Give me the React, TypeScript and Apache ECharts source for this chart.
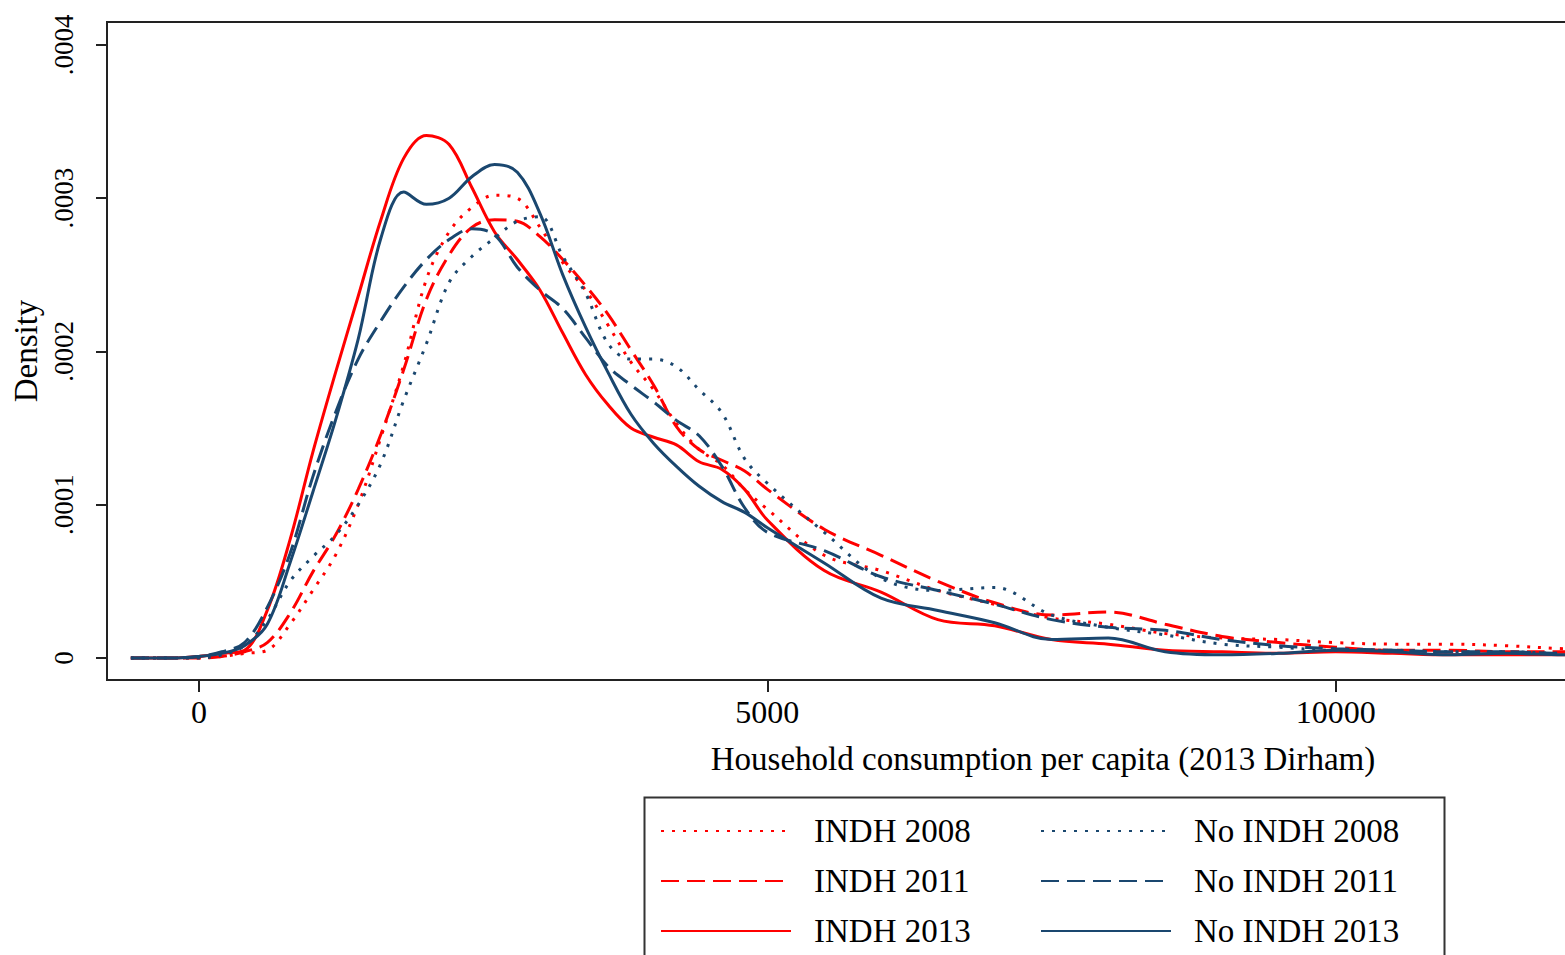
import React, { useEffect, useRef } from "react";
import * as echarts from "echarts";

// x grid (2013 Dirham)
const xs = [
  -600, -400, -200, 0, 200, 400, 600, 800, 1000, 1200, 1400, 1600, 1800, 2000, 2200, 2400, 2600, 2800, 3000,
  3200, 3400, 3600, 3800, 4000, 4200, 4400, 4600, 4800, 5000,
  5500, 6000, 6500, 7000, 7500, 8000, 8500, 9000, 9500, 10000, 10500, 11000, 11500, 12000,
  12500, 13000, 13500, 14000, 14500, 15000, 15500,
];

// densities in units of 0.0001
const indh2008 = [
  0, 0, 0, 0, 0.01, 0.03, 0.05, 0.22, 0.44, 0.67, 1.0, 1.44, 1.91, 2.47, 2.78, 2.94, 3.02, 3.0, 2.81,
  2.58, 2.4, 2.17, 1.93, 1.75, 1.53, 1.36, 1.26, 1.1, 0.97,
  0.67, 0.57, 0.44, 0.35, 0.26, 0.22, 0.16, 0.13, 0.12, 0.1, 0.09, 0.09, 0.08, 0.06,
  0.05, 0.04, 0.03, 0.03, 0.02, 0.02, 0.01,
];
const indh2011 = [
  0, 0, 0, 0, 0.01, 0.04, 0.1, 0.29, 0.56, 0.8, 1.1, 1.46, 1.88, 2.34, 2.63, 2.81, 2.86, 2.85, 2.75,
  2.6, 2.43, 2.24, 2.01, 1.78, 1.51, 1.36, 1.29, 1.22, 1.1,
  0.84, 0.67, 0.5, 0.36, 0.28, 0.3, 0.22, 0.14, 0.1, 0.07, 0.05, 0.05, 0.04, 0.04,
  0.03, 0.03, 0.02, 0.02, 0.01, 0.01, 0.01,
];
const indh2013 = [
  0, 0, 0, 0.01, 0.03, 0.05, 0.31, 0.77, 1.34, 1.86, 2.36, 2.86, 3.26, 3.41, 3.35, 3.07, 2.78, 2.6, 2.4,
  2.12, 1.85, 1.65, 1.5, 1.44, 1.39, 1.28, 1.23, 1.1, 0.9,
  0.57, 0.43, 0.25, 0.21, 0.12, 0.09, 0.05, 0.04, 0.03, 0.04, 0.03, 0.02, 0.02, 0.02,
  0.02, 0.01, 0.01, 0.01, 0.01, 0, 0,
];
const noIndh2008 = [
  0, 0, 0, 0, 0.02, 0.08, 0.25, 0.5, 0.66, 0.8, 1.0, 1.27, 1.68, 2.05, 2.45, 2.62, 2.74, 2.85, 2.88,
  2.62, 2.38, 2.05, 1.95, 1.95, 1.9, 1.75, 1.6, 1.3, 1.14,
  0.82, 0.52, 0.44, 0.46, 0.28, 0.2, 0.15, 0.09, 0.07, 0.05, 0.05, 0.04, 0.04, 0.03,
  0.03, 0.02, 0.02, 0.01, 0.01, 0.01, 0.01,
];
const noIndh2011 = [
  0, 0, 0, 0.01, 0.04, 0.1, 0.33, 0.68, 1.18, 1.6, 1.95, 2.2, 2.42, 2.6, 2.73, 2.8, 2.76, 2.55, 2.4,
  2.28, 2.09, 1.9, 1.78, 1.67, 1.55, 1.45, 1.25, 0.98, 0.82,
  0.7, 0.53, 0.44, 0.35, 0.25, 0.2, 0.18, 0.12, 0.08, 0.06, 0.05, 0.04, 0.04, 0.03,
  0.03, 0.02, 0.02, 0.01, 0.01, 0.01, 0.01,
];
const noIndh2013 = [
  0, 0, 0, 0.01, 0.03, 0.08, 0.22, 0.62, 1.08, 1.55, 2.08, 2.74, 3.04, 2.96, 3.0, 3.14, 3.22, 3.17, 2.9,
  2.5, 2.16, 1.86, 1.59, 1.4, 1.25, 1.12, 1.02, 0.95, 0.85,
  0.62, 0.39, 0.31, 0.23, 0.12, 0.13, 0.04, 0.02, 0.03, 0.05, 0.04, 0.02, 0.03, 0.02,
  0.02, 0.01, 0.01, 0.01, 0.01, 0.01, 0,
];

const yTicks = [0, 0.0001, 0.0002, 0.0003, 0.0004];
const xTicks = [0, 5000, 10000];
const yTickLabels = ["0", ".0001", ".0002", ".0003", ".0004"];

const RED = "#ff0000";
const NAVY = "#1a476f";
const FONT = "'Liberation Serif', 'Times New Roman', serif";

const seriesDefs = [
  { name: "INDH 2008", data: indh2008, color: RED, dash: [3, 8] as any },
  { name: "INDH 2011", data: indh2011, color: RED, dash: [18, 8] as any },
  { name: "INDH 2013", data: indh2013, color: RED, dash: "solid" as any },
  { name: "No INDH 2008", data: noIndh2008, color: NAVY, dash: [3, 8] as any },
  { name: "No INDH 2011", data: noIndh2011, color: NAVY, dash: [18, 8] as any },
  { name: "No INDH 2013", data: noIndh2013, color: NAVY, dash: "solid" as any },
];

export default function App() {
  const ref = useRef<HTMLDivElement>(null);
  useEffect(() => {
    if (!ref.current) return;
    const chart = echarts.init(ref.current, null, { renderer: "svg" });
    const legendCommon = {
      orient: "vertical",
      top: 813,
      padding: 0,
      itemWidth: 130,
      itemHeight: 14,
      itemGap: 14,
      itemStyle: { opacity: 0 },
      textStyle: {
        fontFamily: FONT,
        fontSize: 33,
        color: "#000",
        lineHeight: 36,
        padding: [0, 0, 0, 18],
      },
    };
    chart.setOption({
      animation: false,
      backgroundColor: "#fff",
      grid: {
        left: 107,
        top: 22,
        width: 1872,
        height: 658,
        show: true,
        borderColor: "#222",
        borderWidth: 2,
        backgroundColor: "transparent",
        containLabel: false,
      },
      xAxis: {
        type: "value",
        min: -810,
        max: 15660,
        name: "Household consumption per capita (2013 Dirham)",
        nameLocation: "middle",
        nameGap: 62,
        nameTextStyle: { fontFamily: FONT, fontSize: 33, color: "#000" },
        axisLine: { show: true, onZero: false, lineStyle: { color: "#222", width: 2 } },
        axisTick: { show: true, length: 12, customValues: xTicks, lineStyle: { color: "#222", width: 2 } },
        axisLabel: {
          customValues: xTicks,
          margin: 16,
          fontFamily: FONT,
          fontSize: 32,
          color: "#000",
          formatter: (v: number) => String(Math.round(v)),
        },
        splitLine: { show: false },
      },
      yAxis: {
        type: "value",
        min: -0.0000144,
        max: 0.000415,
        name: "Density",
        nameLocation: "middle",
        nameRotate: 90,
        nameGap: 60,
        nameTextStyle: { fontFamily: FONT, fontSize: 33, color: "#000" },
        axisLine: { show: true, onZero: false, lineStyle: { color: "#222", width: 2 } },
        axisTick: { show: true, length: 11, customValues: yTicks, lineStyle: { color: "#222", width: 2 } },
        axisLabel: {
          customValues: yTicks,
          rotate: 90,
          margin: 30,
          fontFamily: FONT,
          fontSize: 27,
          color: "#000",
          formatter: (v: number) => {
            const i = yTicks.findIndex((t) => Math.abs(t - v) < 1e-9);
            return i >= 0 ? yTickLabels[i] : "";
          },
        },
        splitLine: { show: false },
      },
      legend: [
        { ...legendCommon, left: 660, data: ["INDH 2008", "INDH 2011", "INDH 2013"] },
        { ...legendCommon, left: 1040, data: ["No INDH 2008", "No INDH 2011", "No INDH 2013"] },
      ],
      graphic: [
        {
          type: "rect",
          left: 642,
          top: 795,
          shape: { width: 800, height: 200 },
          style: { fill: "none", stroke: "#333", lineWidth: 2 },
          z: 100,
        },
      ],
      series: seriesDefs.map((s) => ({
        name: s.name,
        type: "line",
        smooth: 0.35,
        symbol: "none",
        showSymbol: false,
        color: s.color,
        lineStyle: { color: s.color, width: 3, type: s.dash, cap: "butt" },
        data: xs.map((x, i) => [x, s.data[i] * 0.0001]),
      })),
    });
    return () => chart.dispose();
  }, []);
  return (
    <div style={{ position: "absolute", left: 0, top: 0, width: 1565, height: 955, overflow: "hidden", background: "#fff" }}>
      <div ref={ref} style={{ width: 2000, height: 955 }} />
    </div>
  );
}
